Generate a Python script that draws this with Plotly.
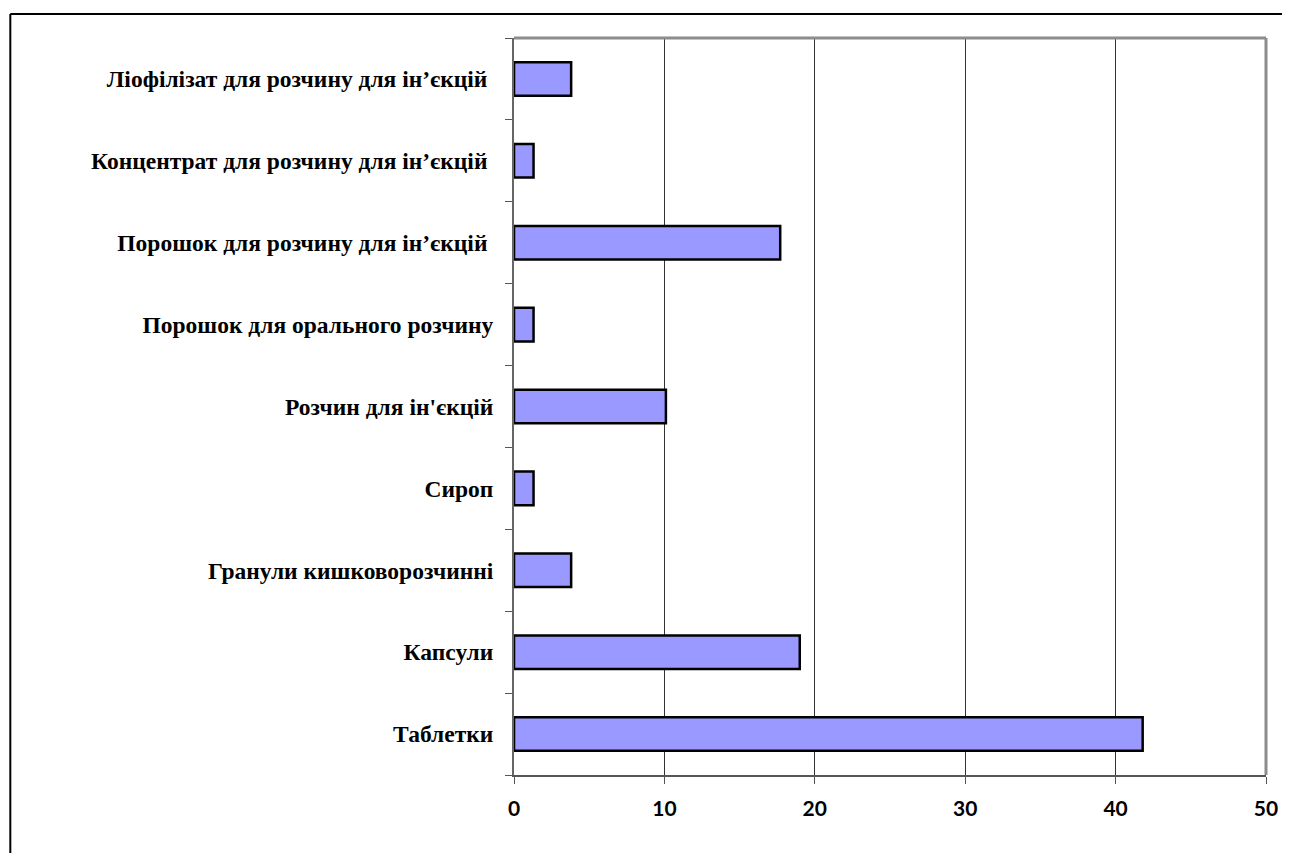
import plotly.graph_objects as go

categories = [
    "Таблетки",
    "Капсули",
    "Гранули кишковорозчинні",
    "Сироп",
    "Розчин для ін'єкцій",
    "Порошок для орального розчину",
    "Порошок для розчину для ін’єкцій ",
    "Концентрат для розчину для ін’єкцій ",
    "Ліофілізат для розчину для ін’єкцій ",
]
values = [41.8, 19.0, 3.8, 1.3, 10.1, 1.3, 17.7, 1.3, 3.8]
x_ticks = [0, 10, 20, 30, 40, 50]

fig = go.Figure(go.Bar(
    x=values,
    y=categories,
    orientation="h",
    marker=dict(color="#9999FF", line=dict(color="#000000", width=2.5)),
    width=0.41,
))

fig.update_layout(
    width=1282,
    height=845,
    margin=dict(l=506, r=22, t=30, b=78),
    paper_bgcolor="white",
    plot_bgcolor="white",
    showlegend=False,
    xaxis=dict(
        range=[0, 50],
        tickvals=x_ticks,
        ticktext=[str(v) for v in x_ticks],
        showgrid=True,
        gridcolor="#333333",
        gridwidth=1,
        zeroline=False,
        showline=True,
        linecolor="#555555",
        linewidth=2,
        ticks="outside",
        ticklen=7,
        tickcolor="#555555",
        tickfont=dict(family="Lato", size=21, color="#000000", weight="bold"),
        ticklabelstandoff=7,
        mirror=False,
    ),
    yaxis=dict(
        type="category",
        categoryorder="array",
        categoryarray=categories,
        range=[-0.5, len(categories) - 0.5],
        showgrid=False,
        zeroline=False,
        showline=True,
        linecolor="#666666",
        linewidth=2,
        ticks="outside",
        tickson="boundaries",
        ticklen=7,
        tickcolor="#555555",
        tickfont=dict(family="Liberation Serif", size=23.5, color="#000000", weight="bold"),
        ticklabelstandoff=14,
    ),
    shapes=[
        # plot area top/right border (gray)
        dict(type="line", xref="paper", yref="paper", x0=0, x1=1, y0=1, y1=1,
             line=dict(color="#8c8c8c", width=3)),
        dict(type="line", xref="paper", yref="paper", x0=1, x1=1, y0=0, y1=1,
             line=dict(color="#8c8c8c", width=3)),
        # outer chart frame
        dict(type="line", xref="paper", yref="paper", x0=-0.6698, x1=1.1, y0=1.0326, y1=1.0326,
             line=dict(color="#000000", width=2)),
        dict(type="line", xref="paper", yref="paper", x0=-0.6698, x1=-0.6698, y0=-0.2, y1=1.0326,
             line=dict(color="#000000", width=2)),
    ],
)

fig.write_html("out.html")
